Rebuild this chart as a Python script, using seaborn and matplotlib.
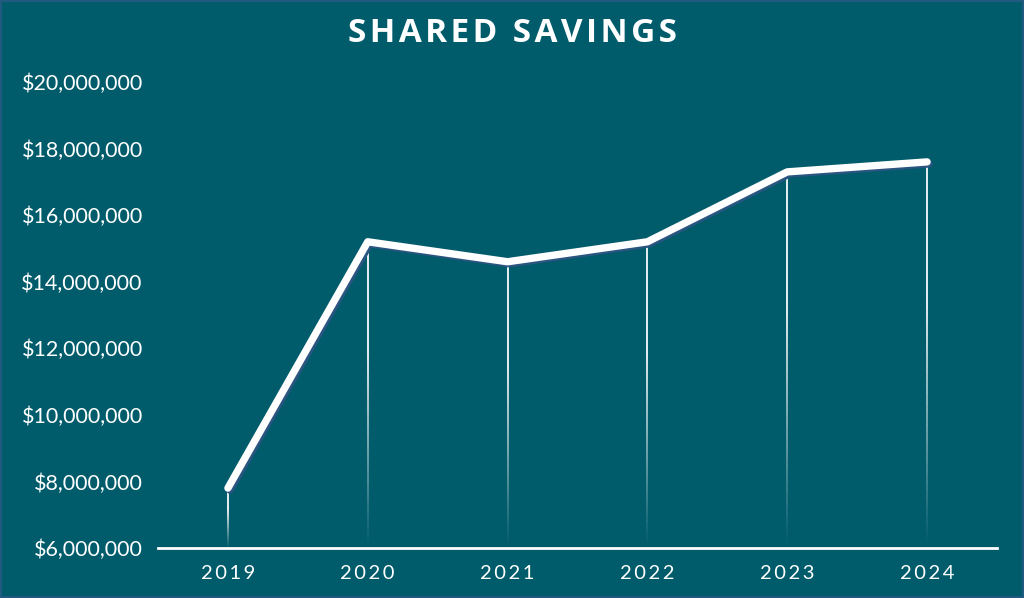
import numpy as np
import pandas as pd
import matplotlib
matplotlib.use("Agg")
import matplotlib.pyplot as plt
import matplotlib.patheffects as pe
from matplotlib.collections import LineCollection
from matplotlib.ticker import FuncFormatter
import seaborn as sns

# data
years = ["2019", "2020", "2021", "2022", "2023", "2024"]
savings = [7.8e6, 15.2e6, 14.6e6, 15.2e6, 17.3e6, 17.6e6]
y_ticks = [6e6, 8e6, 10e6, 12e6, 14e6, 16e6, 18e6, 20e6]
title = "SHARED SAVINGS"

BG = "#005b6b"
SHADOW = "#2a5580"

sns.set_theme(style="white")
plt.rcParams["font.family"] = ["Lato", "DejaVu Sans"]

df = pd.DataFrame({"year": years, "savings": savings})
df["pos"] = np.arange(len(df))

fig = plt.figure(figsize=(10.24, 5.98), dpi=100, facecolor=BG)
ax = fig.add_axes([158 / 1024, 50 / 598, (997 - 158) / 1024, (548 - 82) / 598])
ax.set_facecolor(BG)

# drop lines fading towards the baseline
segs, cols = [], []
n = 60
for x, v in zip(df["pos"], df["savings"]):
    ys = np.linspace(y_ticks[0], v, n + 1)
    for i in range(n):
        segs.append([(x, ys[i]), (x, ys[i + 1])])
        a = min(1.0, (i / n) * 1.6)
        cols.append((1, 1, 1, a * 0.9))
ax.add_collection(LineCollection(segs, colors=cols, linewidths=1.4, zorder=2))

sns.lineplot(data=df, x="pos", y="savings", ax=ax, color="white", linewidth=5.3,
             solid_capstyle="round", solid_joinstyle="round", zorder=3,
             path_effects=[pe.SimpleLineShadow(offset=(1.5, -1.5), shadow_color=SHADOW, alpha=1),
                           pe.Normal()])

ax.set_xlim(-0.5, 5.5)
ax.set_ylim(y_ticks[0], y_ticks[-1])
ax.set_xticks(df["pos"])
# years are letter-spaced in the reference
ax.set_xticklabels(["\u2009".join(y) for y in years])
ax.set_yticks(y_ticks)
ax.yaxis.set_major_formatter(FuncFormatter(lambda v, p: f"${v:,.0f}"))
ax.tick_params(axis="x", colors="white", labelsize=14.5, length=0, pad=12)
ax.tick_params(axis="y", colors="white", labelsize=15.5, length=0, pad=11)
for lbl in ax.get_xticklabels() + ax.get_yticklabels():
    lbl.set_color("white")
ax.set_xlabel("")
ax.set_ylabel("")

for s in ["top", "right", "left"]:
    ax.spines[s].set_visible(False)
ax.spines["bottom"].set_color("white")
ax.spines["bottom"].set_linewidth(2)

fig.text(0.5, 1 - 34 / 598, "\u200a".join(title), ha="center", va="center",
         color="white", fontsize=24, fontweight="bold",
         family=["Open Sans", "DejaVu Sans"])

# thin frame around the image
fig.patches.append(plt.Rectangle((0, 0), 1, 1, transform=fig.transFigure, fill=False,
                                 edgecolor="#215a80", linewidth=3))

fig.savefig("out.png", dpi=100, facecolor=BG)
